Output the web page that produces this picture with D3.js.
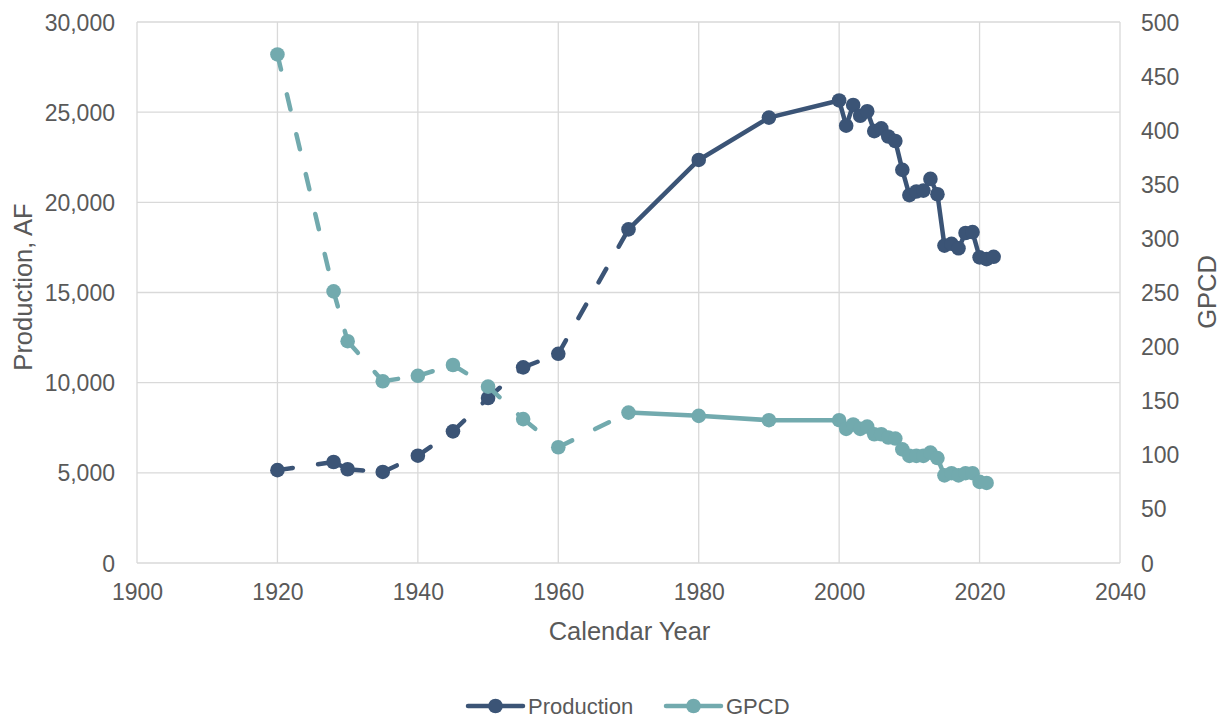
<!DOCTYPE html>
<html>
<head>
<meta charset="utf-8">
<script src="https://cdn.jsdelivr.net/npm/d3@7"></script>
<style>
  html, body { margin: 0; padding: 0; background: #fff; }
  svg { display: block; font-family: "Liberation Sans", Arial, sans-serif; }
</style>
</head>
<body>
<svg id="chart" width="1220" height="719"></svg>
<script>
// Annual production (acre-feet) and per-capita use (gallons per capita per day)
const prodYears = [1920, 1928, 1930, 1935, 1940, 1945, 1950, 1955, 1960, 1970, 1980, 1990,
  2000, 2001, 2002, 2003, 2004, 2005, 2006, 2007, 2008, 2009, 2010, 2011, 2012, 2013, 2014,
  2015, 2016, 2017, 2018, 2019, 2020, 2021, 2022];
const prodValues = [5150, 5600, 5200, 5050, 5950, 7300, 9150, 10850, 11600, 18500, 22350, 24700,
  25650, 24250, 25400, 24800, 25050, 23950, 24100, 23650, 23400, 21800, 20400, 20600, 20650, 21300, 20450,
  17600, 17700, 17450, 18300, 18350, 16950, 16850, 16980];

const gpcdYears = [1920, 1928, 1930, 1935, 1940, 1945, 1950, 1955, 1960, 1970, 1980, 1990,
  2000, 2001, 2002, 2003, 2004, 2005, 2006, 2007, 2008, 2009, 2010, 2011, 2012, 2013, 2014,
  2015, 2016, 2017, 2018, 2019, 2020, 2021];
const gpcdValues = [470, 251, 205, 168, 173, 183, 163, 133, 107, 139, 136, 132,
  132, 124, 128, 124, 126, 119, 119, 116, 115, 105, 99, 99, 99, 102, 97,
  81, 83, 81, 83, 83, 75, 74];

// Segments that start before this year are drawn dashed (sparse early record)
const solidFromYear = 1970;

const xTicks = [1900, 1920, 1940, 1960, 1980, 2000, 2020, 2040];
const yLeftTicks = [0, 5000, 10000, 15000, 20000, 25000, 30000];
const yRightTicks = [0, 50, 100, 150, 200, 250, 300, 350, 400, 450, 500];

const seriesNames = ["Production", "GPCD"];
const colors = { Production: "#3b5476", GPCD: "#72aaae" };

const svg = d3.select("#chart");
const plot = { left: 137, right: 1120, top: 22, bottom: 563 };

const x = d3.scaleLinear().domain([1900, 2040]).range([plot.left, plot.right]);
const yL = d3.scaleLinear().domain([0, 30000]).range([plot.bottom, plot.top]);
const yR = d3.scaleLinear().domain([0, 500]).range([plot.bottom, plot.top]);

const gridColor = "#d9d9d9";
const textColor = "#595959";
const tickFont = "23px";
const titleFont = "25.5px";

// Gridlines
const grid = svg.append("g");
grid.selectAll("line.h").data(yLeftTicks).join("line")
  .attr("x1", plot.left).attr("x2", plot.right)
  .attr("y1", d => yL(d)).attr("y2", d => yL(d))
  .attr("stroke", gridColor).attr("stroke-width", 1.3);
grid.selectAll("line.v").data(xTicks).join("line")
  .attr("x1", d => x(d)).attr("x2", d => x(d))
  .attr("y1", plot.top).attr("y2", plot.bottom)
  .attr("stroke", gridColor).attr("stroke-width", 1.3);

// Axes (labels only; gridlines carry the structure)
const fmt = d3.format(",");
const leftAxis = svg.append("g").attr("transform", `translate(${plot.left - 22},0)`)
  .call(d3.axisLeft(yL).tickValues(yLeftTicks).tickFormat(fmt).tickSize(0).tickPadding(0));
const rightAxis = svg.append("g").attr("transform", `translate(${plot.right + 21},0)`)
  .call(d3.axisRight(yR).tickValues(yRightTicks).tickSize(0).tickPadding(0));
const bottomAxis = svg.append("g").attr("transform", `translate(0,${plot.bottom + 29})`)
  .call(d3.axisBottom(x).tickValues(xTicks).tickFormat(d3.format("d")).tickSize(0).tickPadding(0));
[leftAxis, rightAxis, bottomAxis].forEach(g => {
  g.select(".domain").remove();
  g.selectAll("text").attr("fill", textColor).style("font-size", tickFont)
    .style("font-family", "'Liberation Sans', Arial, sans-serif");
});
leftAxis.selectAll("text").attr("dy", "0.35em");
rightAxis.selectAll("text").attr("dy", "0.35em");
bottomAxis.selectAll("text").attr("dy", "0.35em");

// Axis titles
svg.append("text").attr("x", (plot.left + plot.right) / 2 + 1).attr("y", 640)
  .attr("text-anchor", "middle").attr("fill", textColor).style("font-size", titleFont)
  .text("Calendar Year");
svg.append("text").attr("transform", `translate(32,287) rotate(-90)`)
  .attr("text-anchor", "middle").attr("fill", textColor).style("font-size", titleFont)
  .text("Production, AF");
svg.append("text").attr("transform", `translate(1216,292) rotate(-90)`)
  .attr("text-anchor", "middle").attr("fill", textColor).style("font-size", titleFont)
  .text("GPCD");

// Series: each segment drawn on its own so the dash pattern restarts at every point
function drawSeries(name, years, values, y) {
  const pts = years.map((yr, i) => ({ year: yr, value: values[i] }));
  const segs = d3.pairs(pts);
  const g = svg.append("g");
  g.selectAll("line").data(segs).join("line")
    .attr("x1", d => x(d[0].year)).attr("y1", d => y(d[0].value))
    .attr("x2", d => x(d[1].year)).attr("y2", d => y(d[1].value))
    .attr("stroke", colors[name]).attr("stroke-width", 4.5)
    .attr("stroke-linecap", "round")
    .attr("stroke-dasharray", d => d[0].year < solidFromYear ? "15.5 25.5" : null);
  g.selectAll("circle").data(pts).join("circle")
    .attr("cx", d => x(d.year)).attr("cy", d => y(d.value))
    .attr("r", 7.3).attr("fill", colors[name]);
}
drawSeries("Production", prodYears, prodValues, yL);
drawSeries("GPCD", gpcdYears, gpcdValues, yR);

// Legend
const legendY = 706;
const legendItems = [{ name: seriesNames[0], x0: 468 }, { name: seriesNames[1], x0: 666 }];
const lg = svg.append("g");
legendItems.forEach(it => {
  lg.append("line").attr("x1", it.x0).attr("x2", it.x0 + 55)
    .attr("y1", legendY).attr("y2", legendY)
    .attr("stroke", colors[it.name]).attr("stroke-width", 4.5).attr("stroke-linecap", "round");
  lg.append("circle").attr("cx", it.x0 + 27.5).attr("cy", legendY).attr("r", 7.3)
    .attr("fill", colors[it.name]);
  lg.append("text").attr("x", it.x0 + 60).attr("y", legendY).attr("dy", "0.35em")
    .attr("fill", textColor).style("font-size", "22px").text(it.name);
});
</script>
</body>
</html>
